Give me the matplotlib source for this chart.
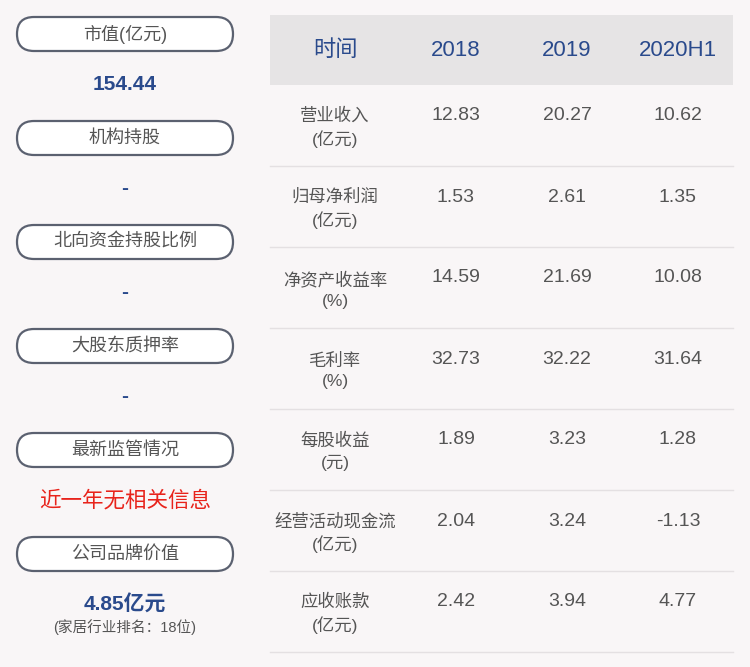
import matplotlib.pyplot as plt
from matplotlib.patches import FancyBboxPatch, Rectangle

plt.rcParams['font.family'] = ['Liberation Sans', 'Noto Sans CJK SC', 'DejaVu Sans']

# left panel
left_titles = ['市值(亿元)', '机构持股', '北向资金持股比例', '大股东质押率', '最新监管情况', '公司品牌价值']
left_values = ['154.44', '-', '-', '-', '近一年无相关信息', '4.85亿元']
left_colors = ['#2a4a8c', '#2a4a8c', '#2a4a8c', '#2a4a8c', '#e8231b', '#2a4a8c']
brand_note = '(家居行业排名：18位)'

# table
header = ['时间', '2018', '2019', '2020H1']
row_labels = ['营业收入\n(亿元)', '归母净利润\n(亿元)', '净资产收益率\n(%)', '毛利率\n(%)',
              '每股收益\n(元)', '经营活动现金流\n(亿元)', '应收账款\n(亿元)']
v2018 = ['12.83', '1.53', '14.59', '32.73', '1.89', '2.04', '2.42']
v2019 = ['20.27', '2.61', '21.69', '32.22', '3.23', '3.24', '3.94']
v2020 = ['10.62', '1.35', '10.08', '31.64', '1.28', '-1.13', '4.77']

fig = plt.figure(figsize=(7.5, 6.67), dpi=100)
fig.patch.set_facecolor('#f9f6f7')
ax = fig.add_axes([0, 0, 1, 1])
ax.set_xlim(0, 750)
ax.set_ylim(667, 0)
ax.axis('off')

for i, (t, v, c) in enumerate(zip(left_titles, left_values, left_colors)):
    yc = 34 + i * 104
    ax.add_patch(FancyBboxPatch((17, yc - 17), 216, 34, boxstyle='round,pad=0,rounding_size=17',
                                fc='white', ec='#5b6170', lw=1.6))
    ax.text(125, yc, t, ha='center', va='center', fontsize=13, color='#555555')
    ax.text(125, yc + 51, v, ha='center', va='center', fontsize=15.5 if i == 4 else 15,
            color=c, fontweight='normal' if i == 4 else 'semibold')
ax.text(125, 627, brand_note, ha='center', va='center', fontsize=10.5, color='#555555')

ax.add_patch(Rectangle((270, 15), 463, 70, fc='#e6e4e5', ec='none'))
col_x = [335, 456, 567, 678]
for x, h in zip(col_x, header):
    ax.text(x, 50, h, ha='center', va='center', fontsize=16, color='#2a4a8c')

for r, lab in enumerate(row_labels):
    y0 = 85 + r * 81
    ax.text(col_x[0], y0 + 43, lab, ha='center', va='center', fontsize=12.5, color='#555555',
            linespacing=1.45)
    for x, vals in zip(col_x[1:], [v2018, v2019, v2020]):
        ax.text(x, y0 + 31, vals[r], ha='center', va='center', fontsize=14, color='#555555')
    ax.plot([270, 733], [y0 + 81, y0 + 81], color='#e4e0e2', lw=1)

fig.savefig('out.png', dpi=100, facecolor=fig.get_facecolor())
